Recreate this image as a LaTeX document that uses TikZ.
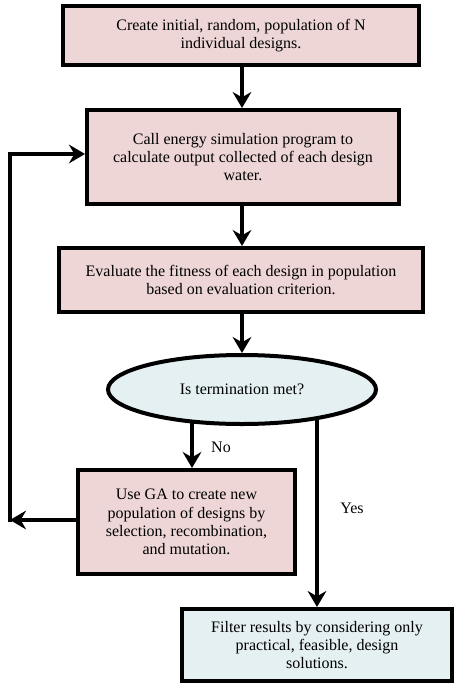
\documentclass[tikz,border=0pt]{standalone}
\usepackage{fontspec}
\setmainfont{Liberation Serif}
\usetikzlibrary{shapes.geometric,arrows.meta}
\pgfdeclarelayer{bg}
\pgfsetlayers{bg,main}
\definecolor{boxpink}{RGB}{238,214,214}
\definecolor{boxblue}{RGB}{228,240,242}
\tikzset{
  x=0.75pt, y=-0.75pt,
  flowbox/.style={draw=black, line width=3pt, rectangle, align=center,
    font=\fontsize{12}{13.75}\selectfont, inner sep=2pt},
  pinkbox/.style={flowbox, fill=boxpink},
  bluebox/.style={flowbox, fill=boxblue},
  arr/.style={line width=3pt, -{Stealth[length=12pt,width=14pt,inset=4pt]}},
  plain/.style={line width=3pt},
  lbl/.style={font=\fontsize{12}{14}\selectfont}
}
\begin{document}
\begin{tikzpicture}
\useasboundingbox (0,0) rectangle (462,686);
\node[pinkbox, minimum width=267pt, minimum height=44.25pt] (b1) at (241,35.5)
  {Create initial, random, population of N\\individual designs.};
\node[pinkbox, minimum width=234pt, minimum height=70.5pt] (b2) at (243,157)
  {Call energy simulation program to\\calculate output collected of each design\\water.};
\node[pinkbox, minimum width=273pt, minimum height=48pt] (b3) at (241,280)
  {Evaluate the fitness of each design in population\\based on evaluation criterion.};
\node[ellipse, draw=black, line width=3pt, fill=boxblue, minimum width=201pt, minimum height=51.75pt,
  font=\fontsize{12}{14}\selectfont, inner sep=0pt] (ell) at (242,389.5) {Is termination met?};
\node[pinkbox, minimum width=162.75pt, minimum height=78pt] (b4) at (186.5,522)
  {Use GA to create new\\population of designs by\\selection, recombination,\\and mutation.};
\node[bluebox, minimum width=202.5pt, minimum height=54pt] (b5) at (317,645)
  {Filter results by considering only\\practical, feasible, design\\solutions.};

\coordinate (noX) at (192,389.5);
\coordinate (c1) at (10,520);
\coordinate (c2) at (10,154);

\draw[arr] (b1.south -| 242,0) -- (b2.north -| 242,0);
\draw[arr] (b2.south -| 242,0) -- (b3.north -| 242,0);
\draw[arr] (b3.south -| 242,0) -- (ell.north);
\begin{pgfonlayer}{bg}
\draw[arr] (noX) -- (noX |- b4.north);
\draw[arr] (ell.center -| b5.north) -- (b5.north);
\end{pgfonlayer}
\draw[arr] (b4.west |- c1) -- (c1);
\draw[plain] ([yshift=-1.5pt]c1) -- (c2);
\draw[arr] ([xshift=-1.5pt]c2) -- (b2.west |- c2);

\node[lbl] (no) at (221,447) {No};
\node[lbl] (yes) at (352,508) {Yes};
\end{tikzpicture}
\end{document}
